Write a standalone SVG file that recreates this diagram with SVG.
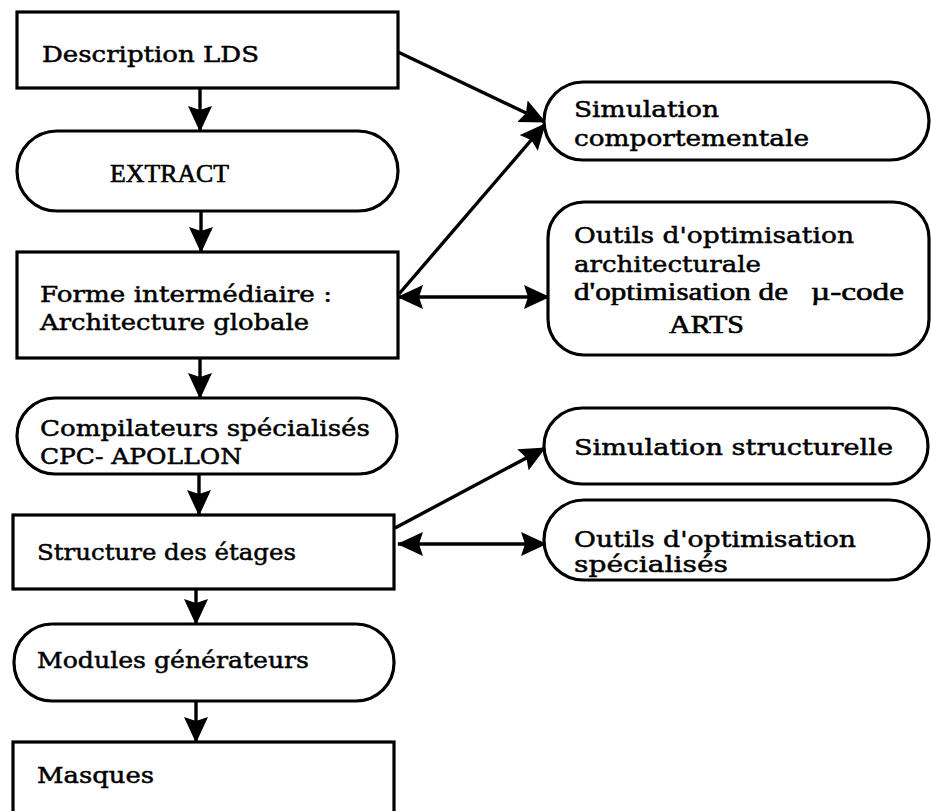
<svg xmlns="http://www.w3.org/2000/svg" width="931" height="811" viewBox="0 0 931 811">
  <style>
    .box { fill: #fff; stroke: #000; stroke-width: 3.2; }
    .t { font-family: "DejaVu Serif", "Liberation Serif", serif; font-size: 23px; fill: #000; stroke: #000; stroke-width: 0.5; }
    .tt { font-family: "Liberation Serif", "DejaVu Serif", serif; font-size: 25px; fill: #000; stroke: #000; stroke-width: 0.6; }
    .c { fill: none; stroke: #000; stroke-width: 3.4; }
  </style>
  <defs>
    <marker id="ah" viewBox="0 0 26 24" refX="25" refY="12" markerWidth="26" markerHeight="24" markerUnits="userSpaceOnUse" orient="auto-start-reverse">
      <path d="M0,0 L26,12 L0,24 L4,12 z" fill="#000"/>
    </marker>
  </defs>
  <rect width="931" height="811" fill="#fff"/>

  <g id="connectors">
    <line class="c" x1="200" y1="88" x2="200" y2="131" marker-end="url(#ah)"/>
    <line class="c" x1="201" y1="211" x2="201" y2="252" marker-end="url(#ah)"/>
    <line class="c" x1="200" y1="358" x2="200" y2="398" marker-end="url(#ah)"/>
    <line class="c" x1="199" y1="474" x2="199" y2="515" marker-end="url(#ah)"/>
    <line class="c" x1="196" y1="589" x2="196" y2="624" marker-end="url(#ah)"/>
    <line class="c" x1="196" y1="701" x2="196" y2="742" marker-end="url(#ah)"/>
    <line class="c" x1="398" y1="52" x2="545" y2="122" marker-end="url(#ah)"/>
    <line class="c" x1="399" y1="294" x2="545" y2="124" marker-end="url(#ah)"/>
    <line class="c" x1="398" y1="297" x2="549" y2="297" marker-start="url(#ah)" marker-end="url(#ah)"/>
    <line class="c" x1="395" y1="528" x2="545" y2="448" marker-end="url(#ah)"/>
    <line class="c" x1="398" y1="544" x2="546" y2="544" marker-start="url(#ah)" marker-end="url(#ah)"/>
  </g>

  <g id="n-description">
    <rect class="box" x="17" y="12" width="381" height="76"/>
    <text class="t" x="42" y="62" textLength="217" lengthAdjust="spacingAndGlyphs">Description LDS</text>
  </g>
  <g id="n-extract">
    <rect class="box" x="17" y="131" width="381" height="80" rx="40"/>
    <text class="tt" x="110" y="182" textLength="119" lengthAdjust="spacingAndGlyphs">EXTRACT</text>
  </g>
  <g id="n-forme">
    <rect class="box" x="17" y="252" width="381" height="106"/>
    <text class="t" x="40" y="302" textLength="292" lengthAdjust="spacingAndGlyphs">Forme intermédiaire :</text>
    <text class="t" x="40" y="330" textLength="269" lengthAdjust="spacingAndGlyphs">Architecture globale</text>
  </g>
  <g id="n-compilateurs">
    <rect class="box" x="17" y="398" width="380" height="76" rx="38"/>
    <text class="t" x="40" y="436" textLength="330" lengthAdjust="spacingAndGlyphs">Compilateurs spécialisés</text>
    <text class="t" x="40" y="464" textLength="202" lengthAdjust="spacingAndGlyphs">CPC- APOLLON</text>
  </g>
  <g id="n-structure">
    <rect class="box" x="13" y="515" width="381" height="74"/>
    <text class="t" x="37" y="560" textLength="259" lengthAdjust="spacingAndGlyphs">Structure des étages</text>
  </g>
  <g id="n-modules">
    <rect class="box" x="14" y="624" width="380" height="77" rx="38"/>
    <text class="t" x="37" y="668" textLength="272" lengthAdjust="spacingAndGlyphs">Modules générateurs</text>
  </g>
  <g id="n-masques">
    <rect class="box" x="13" y="742" width="381" height="90"/>
    <text class="t" x="37" y="783" textLength="117" lengthAdjust="spacingAndGlyphs">Masques</text>
  </g>

  <g id="n-simcomp">
    <rect class="box" x="544" y="82" width="385" height="78" rx="39"/>
    <text class="t" x="574" y="117" textLength="145" lengthAdjust="spacingAndGlyphs">Simulation</text>
    <text class="t" x="574" y="146" textLength="235" lengthAdjust="spacingAndGlyphs">comportementale</text>
  </g>
  <g id="n-outils-arch">
    <rect class="box" x="548" y="202" width="381" height="153" rx="36"/>
    <text class="t" x="574" y="243" textLength="280" lengthAdjust="spacingAndGlyphs">Outils d'optimisation</text>
    <text class="t" x="574" y="272" textLength="187" lengthAdjust="spacingAndGlyphs">architecturale</text>
    <text class="tt" x="574" y="300" textLength="214" lengthAdjust="spacingAndGlyphs">d'optimisation de</text>
    <text class="tt" x="811" y="300" textLength="93" lengthAdjust="spacingAndGlyphs">µ-code</text>
    <text class="tt" x="669" y="333" textLength="75" lengthAdjust="spacingAndGlyphs">ARTS</text>
  </g>
  <g id="n-simstruct">
    <rect class="box" x="544" y="408" width="384" height="76" rx="38"/>
    <text class="t" x="574" y="455" textLength="319" lengthAdjust="spacingAndGlyphs">Simulation structurelle</text>
  </g>
  <g id="n-outils-spec">
    <rect class="box" x="544" y="500" width="385" height="80" rx="40"/>
    <text class="t" x="574" y="547" textLength="282" lengthAdjust="spacingAndGlyphs">Outils d'optimisation</text>
    <text class="t" x="574" y="572" textLength="154" lengthAdjust="spacingAndGlyphs">spécialisés</text>
  </g>
</svg>
